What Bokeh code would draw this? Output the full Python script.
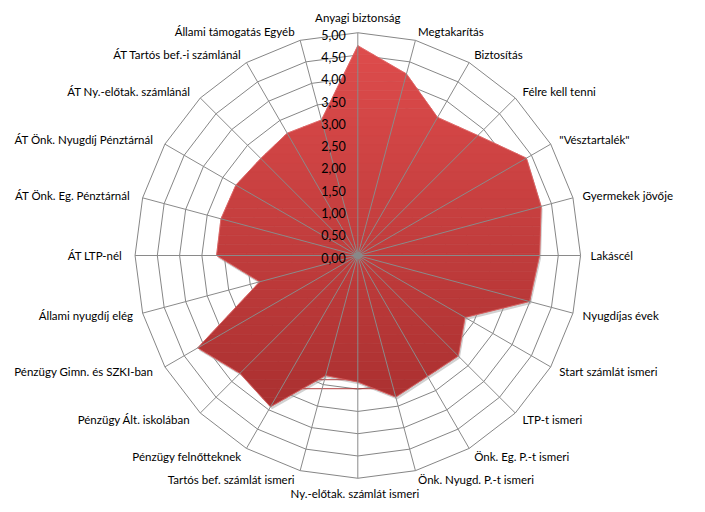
import numpy as np
from bokeh.plotting import figure
from bokeh.models import Range1d
from bokeh.core.properties import value
from bokeh.embed import file_html
from bokeh.resources import INLINE

categories = [
    "Anyagi biztonság", "Megtakarítás", "Biztosítás", "Félre kell tenni",
    "\"Vésztartalék\"", "Gyermekek jövője", "Lakáscél", "Nyugdíjas évek",
    "Start számlát  ismeri", "LTP-t ismeri", "Önk. Eg.  P.-t ismeri",
    "Önk. Nyugd.  P.-t ismeri", "Ny.-előtak.  számlát  ismeri",
    "Tartós bef. számlát  ismeri", "Pénzügy felnőtteknek",
    "Pénzügy Ált.  iskolában", "Pénzügy Gimn.  és SZKI-ban",
    "Állami nyugdíj elég", "ÁT  LTP-nél", "ÁT Önk. Eg.  Pénztárnál",
    "ÁT Önk. Nyugdíj  Pénztárnál", "ÁT Ny.-előtak.  számlánál",
    "ÁT Tartós bef.-i számlánál", "Állami támogatás  Egyéb",
]
values = [4.71, 4.22, 3.58, 3.81, 4.37, 4.26, 4.08, 3.99,
          2.78, 3.19, 3.13, 3.29, 2.84, 2.79, 3.92, 3.74,
          4.15, 2.28, 3.17, 3.18, 3.16, 3.08, 3.17, 3.15]
tick_values = [0.0, 0.5, 1.0, 1.5, 2.0, 2.5, 3.0, 3.5, 4.0, 4.5, 5.0]
tick_labels = ["0,00", "0,50", "1,00", "1,50", "2,00", "2,50",
               "3,00", "3,50", "4,00", "4,50", "5,00"]

FONT = "Lato"
FS = "11.5px"
n = len(categories)
theta = np.arange(n) * 2 * np.pi / n
sx, cy = np.sin(theta), np.cos(theta)
rmax = tick_values[-1]

W, H = 697, 504
scale = 44.55
cxp, cyp = 357.3, 255.0
p = figure(width=W, height=H,
           x_range=Range1d(-cxp / scale, (W - cxp) / scale),
           y_range=Range1d((cyp - H) / scale, cyp / scale),
           x_axis_type=None, y_axis_type=None,
           output_backend="svg", toolbar_location=None, min_border=0)
p.grid.visible = False
p.outline_line_color = None
p.background_fill_color = "white"
p.border_fill_color = "white"

# rings (behind)
ring_xs, ring_ys = [], []
for r in tick_values[1:]:
    ring_xs.append(list(np.append(r * sx, r * sx[0])))
    ring_ys.append(list(np.append(r * cy, r * cy[0])))
p.multi_line(ring_xs, ring_ys, line_color="#868686", line_width=1)

# data polygon
v = np.array(values)
px, py = v * sx, v * cy
pts = list(zip(px, py))

# shadow
p.patch(px + 1.5 / scale, py - 2.5 / scale, fill_color="#9a9a9a",
        fill_alpha=0.45, line_color=None)


def clip(poly, yc, above):
    def inside(pt):
        return pt[1] >= yc if above else pt[1] <= yc
    out = []
    m = len(poly)
    for i in range(m):
        a = poly[i - 1]
        b = poly[i]
        ia, ib = inside(a), inside(b)
        if ib:
            if not ia:
                t = (yc - a[1]) / (b[1] - a[1])
                out.append((a[0] + t * (b[0] - a[0]), yc))
            out.append(b)
        elif ia:
            t = (yc - a[1]) / (b[1] - a[1])
            out.append((a[0] + t * (b[0] - a[0]), yc))
    return out


top_c = np.array([222, 76, 76])
bot_c = np.array([170, 48, 48])
ymin, ymax = py.min(), py.max()
NB = 40
edges = np.linspace(ymax, ymin, NB + 1)
bxs, bys, bcols = [], [], []
for i in range(NB):
    y_hi, y_lo = edges[i], edges[i + 1]
    poly = clip(pts, y_lo, True)
    if not poly:
        continue
    poly = clip(poly, y_hi, False)
    if len(poly) < 3:
        continue
    t = (i + 0.5) / NB
    c = top_c + (bot_c - top_c) * t
    bxs.append([q[0] for q in poly])
    bys.append([q[1] for q in poly])
    bcols.append("#%02x%02x%02x" % tuple(int(round(k)) for k in c))
p.patches(bxs, bys, fill_color=bcols, line_color=bcols, line_width=0.6)
# light rim
p.patch(px, py, fill_color=None, line_color="#e06666", line_width=1, line_alpha=0.7)

# spokes (on top)
p.segment(x0=np.zeros(n), y0=np.zeros(n), x1=rmax * sx, y1=rmax * cy,
          line_color="#8a8a8a", line_width=1)
p.scatter(x=[0], y=[0], size=7, fill_color="#888888", line_color=None)

# radial tick labels
p.text(x=[-12 / scale] * len(tick_values),
       y=[t - 2 / scale for t in tick_values], text=tick_labels,
       text_align="right", text_baseline="middle",
       text_font=value(FONT), text_font_size="12.5px", text_color="#000000")

# category labels
groups = {}
for i, lab in enumerate(categories):
    s, c = sx[i], cy[i]
    lx = rmax * s + 10 / scale * s
    ly = rmax * c + 9 / scale * c
    if abs(s) < 1e-6:
        align = "center"
        base = "bottom" if c > 0 else "top"
    else:
        align = "left" if s > 0 else "right"
        base = "middle"
    groups.setdefault((align, base), ([], [], []))
    g = groups[(align, base)]
    g[0].append(lx)
    g[1].append(ly)
    g[2].append(lab)
for (align, base), (xs, ys, labs) in groups.items():
    p.text(x=xs, y=ys, text=labs, text_align=align, text_baseline=base,
           text_font=value(FONT), text_font_size=FS, text_color="#000000")

open("out.html", "w").write(file_html(p, INLINE))
